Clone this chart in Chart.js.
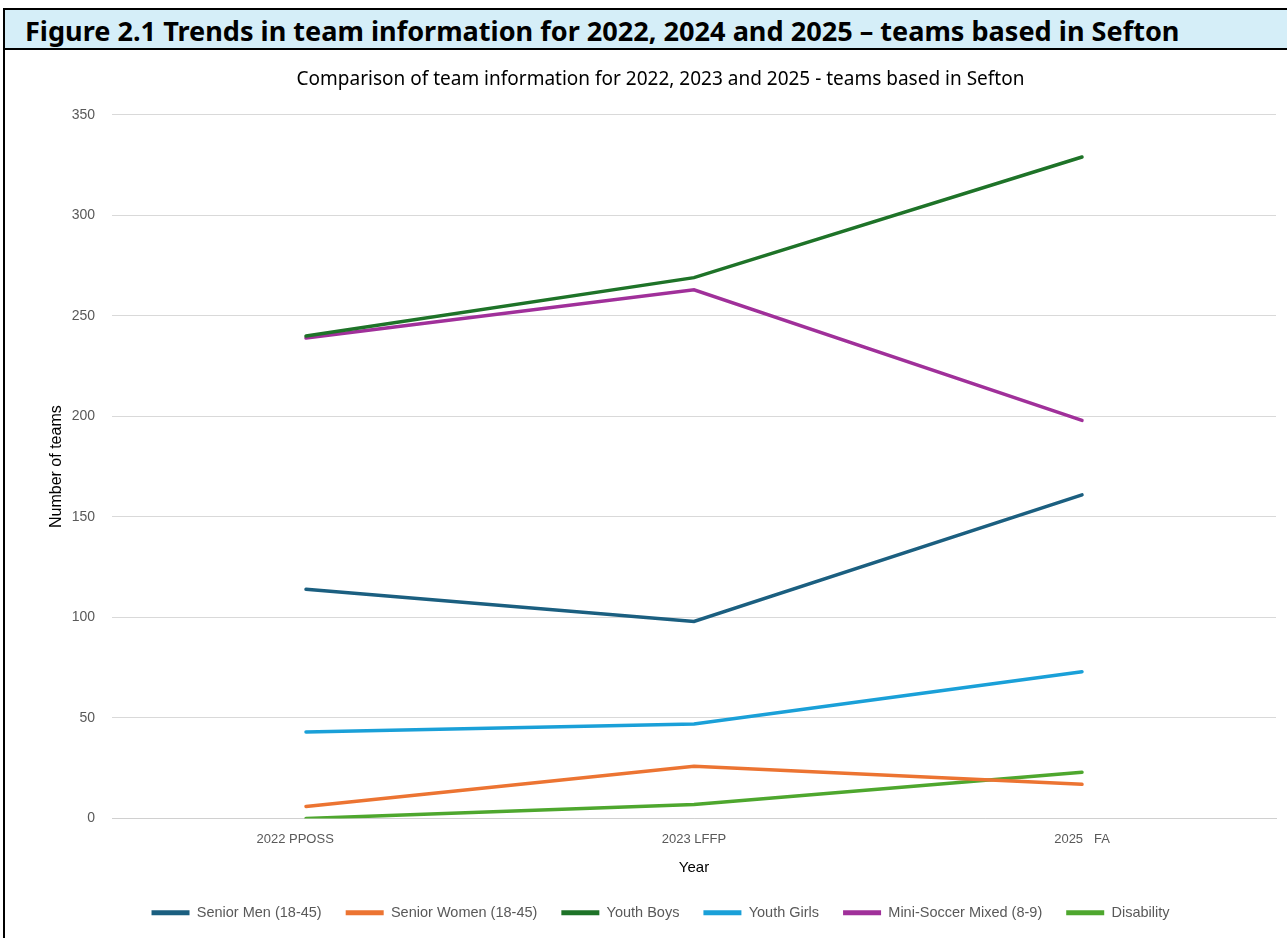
<!DOCTYPE html>
<html>
<head>
<meta charset="utf-8">
<script src="https://cdn.jsdelivr.net/npm/chart.js@4.4.1/dist/chart.umd.min.js"></script>
<style>
    html, body { margin: 0; padding: 0; background: #fff; }
    body { width: 1287px; height: 938px; position: relative; overflow: hidden; }
    .frame {
        position: absolute; left: 3px; top: 8px; width: 1290px; height: 940px;
        border-left: 2px solid #000;
    }
    .header {
        position: absolute; left: 3px; top: 8px; width: 1290px; height: 38px;
        background: #d5eef8;
        border-top: 2px solid #000;
        border-bottom: 2px solid #000;
        border-left: 2px solid #000;
        font-family: "Noto Sans", sans-serif;
        font-weight: bold;
        font-size: 27.1px;
        line-height: 42px;
        padding-left: 20px;
        color: #000;
        white-space: nowrap;
        box-sizing: content-box;
    }
    .box { position: absolute; left: 5px; top: 50px; width: 1282px; height: 888px; }
</style>
</head>
<body>
<div class="frame"></div>
<div class="header">Figure 2.1 Trends in team information for 2022, 2024 and 2025 – teams based in Sefton</div>
<div class="box"><canvas id="teamChart"></canvas></div>
<script>
// Categories and series
const years = ["2022 PPOSS      ", "2023 LFFP", "2025   FA"];

const seniorMen = [114, 98, 161];
const seniorWomen = [6, 26, 17];
const youthBoys = [240, 269, 329];
const youthGirls = [43, 47, 73];
const miniSoccer = [239, 263, 198];
const disability = [0, 7, 23];

const seriesNames = ["Senior Men (18-45)", "Senior Women (18-45)", "Youth Boys", "Youth Girls", "Mini-Soccer Mixed (8-9)", "Disability"];
const seriesColours = ["#1b5f80", "#ec7432", "#1e7328", "#1aa0d8", "#a0309a", "#4ea72e"];
const seriesValues = [seniorMen, seniorWomen, youthBoys, youthGirls, miniSoccer, disability];

const tickFont = "'Liberation Sans', sans-serif";

const datasets = seriesValues.map((vals, i) => ({
    label: seriesNames[i],
    data: vals,
    borderColor: seriesColours[i],
    backgroundColor: seriesColours[i],
    borderWidth: 3.5,
    borderCapStyle: "round",
    pointRadius: 0,
    tension: 0
}));

const ctx = document.getElementById("teamChart").getContext("2d");

new Chart(ctx, {
    type: "line",
    data: { labels: years, datasets },
    options: {
        responsive: true,
        maintainAspectRatio: false,
        animation: false,
        layout: { padding: { left: 40, right: 11, top: 0, bottom: 8 } },
        plugins: {
            title: {
                display: true,
                text: "Comparison of team information for 2022, 2023 and 2025 - teams based in Sefton",
                color: "#000",
                font: { family: "'Noto Sans', sans-serif", size: 19, weight: "normal" },
                padding: { top: 18, bottom: 24 }
            },
            legend: {
                position: "bottom",
                labels: {
                    boxWidth: 38,
                    boxHeight: 5,
                    padding: 24,
                    color: "#595959",
                    font: { family: tickFont, size: 14.5 },
                    generateLabels: (chart) => {
                        const items = Chart.defaults.plugins.legend.labels.generateLabels(chart);
                        items.forEach(it => { it.lineWidth = 0; });
                        return items;
                    }
                }
            },
            tooltip: { enabled: false }
        },
        scales: {
            x: {
                offset: true,
                grid: { display: false, drawTicks: false },
                border: { display: true, color: "#d0d0d0" },
                ticks: { color: "#595959", padding: 13, font: { family: tickFont, size: 13 } },
                title: {
                    display: true,
                    text: "Year",
                    color: "#000",
                    font: { family: tickFont, size: 15 },
                    padding: { top: 0, bottom: 5 }
                },
                afterFit: (scale) => { scale.height = 63; }
            },
            y: {
                min: 0,
                max: 350,
                ticks: { stepSize: 50, color: "#595959", padding: 17, font: { family: tickFont, size: 14 } },
                grid: { color: "#d9d9d9", drawTicks: false },
                border: { display: false },
                title: {
                    display: true,
                    text: "Number of teams",
                    color: "#000",
                    font: { family: tickFont, size: 16 },
                    padding: { top: 2, bottom: 0 }
                },
                afterFit: (scale) => { scale.width = 67; }
            }
        }
    }
});
</script>
</body>
</html>
